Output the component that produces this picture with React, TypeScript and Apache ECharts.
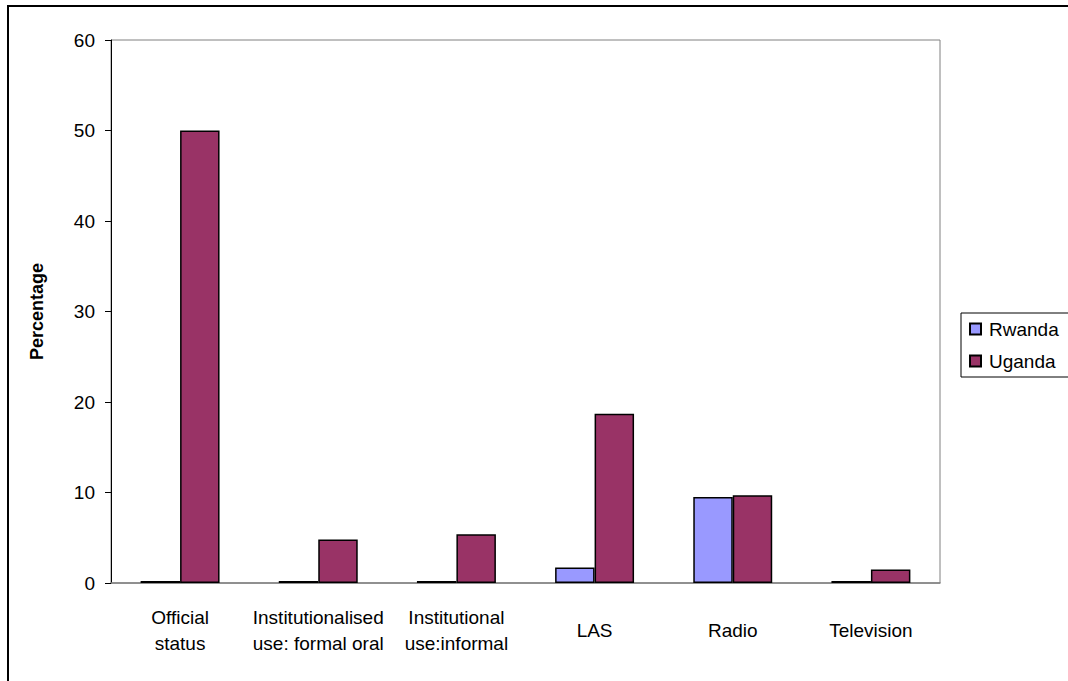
import React, { useEffect, useRef } from "react";
import * as echarts from "echarts";

const categories = [
  "Official\nstatus",
  "Institutionalised\nuse: formal oral",
  "Institutional\nuse:informal",
  "LAS",
  "Radio",
  "Television",
];
const rwanda = [0, 0, 0, 1.7, 9.5, 0];
const uganda = [50, 4.8, 5.4, 18.7, 9.7, 1.5];
const yTicks = { min: 0, max: 60, interval: 10 };

const FONT = "'Liberation Sans', Arial, sans-serif";

export default function App() {
  const ref = useRef<HTMLDivElement>(null);
  useEffect(() => {
    if (!ref.current) return;
    const chart = echarts.init(ref.current, undefined, { renderer: "svg" });
    chart.setOption({
      animation: false,
      textStyle: { fontFamily: FONT },
      graphic: [
        {
          type: "rect",
          shape: { x: 8, y: 6, width: 1100, height: 700 },
          style: { fill: "none", stroke: "#000", lineWidth: 2 },
          z: 100,
        },
      ],
      grid: {
        left: 111,
        top: 40,
        right: 128,
        bottom: 98,
        show: true,
        borderColor: "#808080",
        borderWidth: 1,
        backgroundColor: "#fff",
      },
      legend: {
        orient: "vertical",
        left: 961,
        top: 313,
        borderColor: "#000",
        borderWidth: 1,
        borderRadius: 0,
        padding: [6, 20, 6, 8],
        itemWidth: 11,
        itemHeight: 11,
        itemGap: 12,
        icon: "rect",
        textStyle: {
          fontFamily: FONT,
          fontSize: 19,
          color: "#000",
          lineHeight: 20,
          padding: [0, 0, 0, 3],
        },
        data: ["Rwanda", "Uganda"],
      },
      xAxis: {
        type: "category",
        data: categories,
        axisLine: { lineStyle: { color: "#808080", width: 1.5 } },
        axisTick: { show: false },
        axisLabel: {
          interval: 0,
          margin: 47,
          verticalAlign: "middle",
          fontFamily: FONT,
          fontSize: 19,
          lineHeight: 26,
          color: "#000",
          align: "center",
        },
      },
      yAxis: {
        type: "value",
        min: yTicks.min,
        max: yTicks.max,
        interval: yTicks.interval,
        name: "Percentage",
        nameLocation: "middle",
        nameRotate: 90,
        nameGap: 65,
        nameTextStyle: {
          fontFamily: FONT,
          fontSize: 18,
          fontWeight: "bold",
          color: "#000",
        },
        splitLine: { show: false },
        axisLine: { show: true, lineStyle: { color: "#000", width: 1 } },
        axisTick: { show: true, length: 6, lineStyle: { color: "#000" } },
        axisLabel: {
          margin: 16,
          fontFamily: FONT,
          fontSize: 19,
          color: "#000",
        },
      },
      series: [
        {
          name: "Rwanda",
          type: "bar",
          data: rwanda,
          barGap: "0%",
          barCategoryGap: "42.86%",
          barMinHeight: 2,
          itemStyle: { color: "#9999FF", borderColor: "#000", borderWidth: 1.5 },
        },
        {
          name: "Uganda",
          type: "bar",
          data: uganda,
          barGap: "0%",
          barCategoryGap: "42.86%",
          itemStyle: { color: "#993366", borderColor: "#000", borderWidth: 1.5 },
        },
      ],
    });
    return () => chart.dispose();
  }, []);
  return (
    <div
      ref={ref}
      style={{ position: "absolute", left: 0, top: 0, width: 1068, height: 681, background: "#fff" }}
    />
  );
}
